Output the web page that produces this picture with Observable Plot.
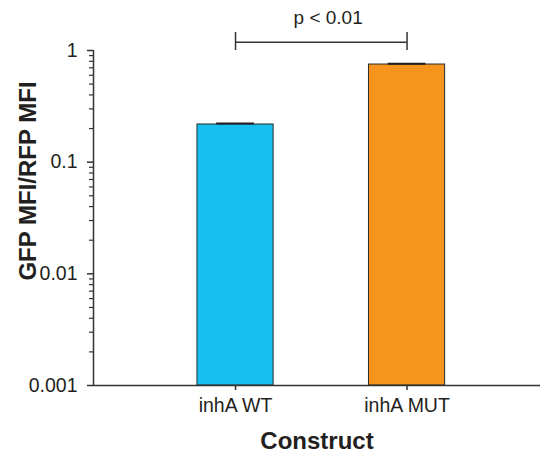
<!DOCTYPE html>
<html>
<head>
<meta charset="utf-8">
<script src="https://cdn.jsdelivr.net/npm/d3@7"></script>
<script src="https://cdn.jsdelivr.net/npm/@observablehq/plot@0.6"></script>
<style>
  html, body { margin: 0; padding: 0; background: #fff; }
  svg { font-family: Arial, "Liberation Sans", sans-serif; }
</style>
</head>
<body>
<div id="chart"></div>
<script>
// Data
const categories = ["inhA WT", "inhA MUT"];
const values = [0.2175, 0.749];
const errors = [0.004, 0.01];
const colors = ["#17bff0", "#f7941e"];
const yTicks = [0.001, 0.01, 0.1, 1];
const yTickLabels = ["0.001", "0.01", "0.1", "1"];
const pLabel = "p < 0.01";
const xTitle = "Construct";
const yTitle = "GFP MFI/RFP MFI";

const data = categories.map((c, i) => ({i, c, v: values[i], e: errors[i], color: colors[i]}));
const xDomain = [-0.828, 1.778];
const half = 0.222;
const cap = 0.11;
const minorTicks = d3.scaleLog().domain([0.001, 1]).ticks().filter(t => !yTicks.some(m => Math.abs(m - t) < 1e-12));
const ink = "#231f20";

const chart = Plot.plot({
  width: 545,
  height: 468,
  marginLeft: 93,
  marginRight: 5,
  marginTop: 50,
  marginBottom: 83,
  style: {fontFamily: 'Arial, "Liberation Sans", sans-serif', color: ink, background: "#fff", overflow: "visible"},
  x: {type: "linear", domain: xDomain, axis: null},
  y: {type: "log", domain: [0.001, 1], axis: null},
  marks: [
    Plot.rectY(data, {x1: d => d.i - half, x2: d => d.i + half, y1: 0.001, y2: "v", fill: "color", stroke: "#2b2b2b", strokeWidth: 1}),
    Plot.ruleX(data, {x: "i", y1: "v", y2: d => d.v + d.e, stroke: ink, strokeWidth: 1.5}),
    Plot.ruleY(data, {y: d => d.v + d.e, x1: d => d.i - cap, x2: d => d.i + cap, stroke: ink, strokeWidth: 2}),
    // axis lines
    Plot.ruleY([0.001], {stroke: "#333", strokeWidth: 1.5}),
    Plot.ruleX([xDomain[0]], {y1: 0.001, y2: 1, stroke: "#333", strokeWidth: 1.5}),
    // y axis: major ticks + labels
    Plot.axisY({ticks: yTicks, text: null, tickSize: 6, stroke: "#333", strokeWidth: 1.5, label: null}),
    Plot.text(yTicks, {x: xDomain[0], y: d => d, text: (d, k) => yTickLabels[k], textAnchor: "end", dx: -16, fontSize: 19.5, fill: ink}),
    // y axis: minor ticks
    Plot.axisY({ticks: minorTicks, text: null, tickSize: 4, stroke: "#333", strokeWidth: 1.2, label: null}),
    // x axis: ticks + labels
    Plot.axisX({ticks: [0, 1], text: null, tickSize: 5, stroke: "#333", strokeWidth: 1.5, label: null}),
    Plot.text(categories, {x: (d, k) => k, frameAnchor: "bottom", dy: 26, fontSize: 19.5, fill: ink}),
    // titles
    Plot.text([xTitle], {frameAnchor: "bottom", dy: 63, fontSize: 24, fontWeight: "bold", fill: ink}),
    Plot.text([yTitle], {frameAnchor: "left", textAnchor: "middle", dx: -65, dy: -37, rotate: -90, fontSize: 24, fontWeight: "bold", fill: ink}),
    // significance bracket
    Plot.ruleY([1.187], {x1: 0, x2: 1, stroke: "#333", strokeWidth: 1.5}),
    Plot.ruleX([0, 1], {y1: 1.0, y2: 1.45, stroke: "#333", strokeWidth: 1.5}),
    Plot.text([pLabel], {x: 0.54, y: 1.97, fontSize: 19, fill: ink})
  ]
});
document.getElementById("chart").appendChild(chart);
</script>
</body>
</html>
